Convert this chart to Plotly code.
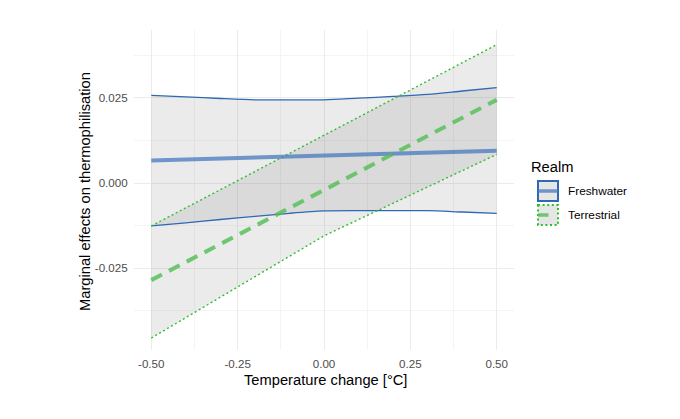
import plotly.graph_objects as go

# temperature change grid
temp = [-0.5, -0.4, -0.3, -0.2, -0.1, 0.0, 0.1, 0.2, 0.3, 0.4, 0.5]

# Freshwater marginal effect + CI
fw_mean = [0.0066, 0.0069, 0.0072, 0.0075, 0.0077, 0.0080, 0.0083, 0.0086, 0.0089, 0.0092, 0.0095]
fw_upper = [0.0257, 0.0253, 0.0248, 0.0244, 0.0244, 0.0244, 0.0249, 0.0254, 0.0260, 0.0270, 0.0280]
fw_lower = [-0.0126, -0.0117, -0.0107, -0.0098, -0.0089, -0.0082, -0.0081, -0.0081, -0.0081, -0.0085, -0.0089]

# Terrestrial marginal effect + CI
tr_temp = [-0.5, 0.0, 0.5]
tr_mean = [-0.0285, -0.0021, 0.0244]
tr_upper = [-0.0126, 0.0140, 0.0406]
tr_lower = [-0.0455, -0.0155, 0.0084]

x_ticks = [-0.5, -0.25, 0.0, 0.25, 0.5]
x_labels = ["-0.50", "-0.25", "0.00", "0.25", "0.50"]
y_ticks = [-0.025, 0.0, 0.025]
y_labels = ["-0.025", "0.000", "0.025"]

realms = ["Freshwater", "Terrestrial"]

FONT = "Liberation Sans, Arial, sans-serif"
RIBBON = "rgba(128,128,128,0.16)"
BLUE = "#2f69b3"
BLUE_MEAN = "rgba(70,120,190,0.75)"
GREEN = "#2fbf2f"
GREEN_MEAN = "rgba(80,190,80,0.8)"
DOT = "2px,2.6px"

fig = go.Figure()

# ribbons
fig.add_trace(go.Scatter(x=temp, y=fw_upper, mode="lines", line=dict(width=0, shape="spline"),
                         hoverinfo="skip", showlegend=False))
fig.add_trace(go.Scatter(x=temp, y=fw_lower, mode="lines", line=dict(width=0, shape="spline"),
                         fill="tonexty", fillcolor=RIBBON, hoverinfo="skip", showlegend=False))
fig.add_trace(go.Scatter(x=tr_temp, y=tr_upper, mode="lines", line=dict(width=0),
                         hoverinfo="skip", showlegend=False))
fig.add_trace(go.Scatter(x=tr_temp, y=tr_lower, mode="lines", line=dict(width=0),
                         fill="tonexty", fillcolor=RIBBON, hoverinfo="skip", showlegend=False))

# CI borders
for y in (fw_upper, fw_lower):
    fig.add_trace(go.Scatter(x=temp, y=y, mode="lines", showlegend=False,
                             line=dict(color=BLUE, width=1.3, shape="spline", smoothing=0.8)))
for y in (tr_upper, tr_lower):
    fig.add_trace(go.Scatter(x=tr_temp, y=y, mode="lines", showlegend=False,
                             line=dict(color=GREEN, width=1.4, dash=DOT)))

# mean lines
fig.add_trace(go.Scatter(x=temp, y=fw_mean, mode="lines", name=realms[0], showlegend=False,
                         line=dict(color=BLUE_MEAN, width=4)))
fig.add_trace(go.Scatter(x=tr_temp, y=tr_mean, mode="lines", name=realms[1], showlegend=False,
                         line=dict(color=GREEN_MEAN, width=4, dash="12px,8px")))

# hand-made legend (ggplot style keys); page has an 8px body margin
def px(x):
    return (x - 134) / 380

def py(y):
    return (350 - y) / 320

shapes = []
annotations = [dict(x=px(529), y=py(167), xref="paper", yref="paper", text="Realm",
                    showarrow=False, xanchor="left", yanchor="middle",
                    font=dict(family=FONT, size=14.7, color="#000")),
               dict(x=px(85), y=py(192), xref="paper", yref="paper",
                    text="Marginal effects on thermophilisation", textangle=-90,
                    showarrow=False, xanchor="center", yanchor="middle",
                    font=dict(family=FONT, size=14.7, color="#000")),
               dict(x=px(325), y=py(380), xref="paper", yref="paper",
                    text="Temperature change [°C]",
                    showarrow=False, xanchor="center", yanchor="middle",
                    font=dict(family=FONT, size=14.7, color="#000"))]
keys = [(realms[0], 191, BLUE, "solid", BLUE_MEAN, "solid"),
        (realms[1], 215, GREEN, DOT, GREEN_MEAN, "dash")]
for label, cy, border, bdash, mcol, mdash in keys:
    shapes.append(dict(type="rect", xref="paper", yref="paper",
                       x0=px(538), x1=px(558), y0=py(cy - 10), y1=py(cy + 10),
                       fillcolor="#e6e6e6", line=dict(color=border, width=2, dash=bdash)))
    shapes.append(dict(type="line", xref="paper", yref="paper",
                       x0=px(538), x1=px(558), y0=py(cy), y1=py(cy),
                       line=dict(color=mcol, width=3.5, dash=mdash)))
    annotations.append(dict(x=px(566), y=py(cy), xref="paper", yref="paper", text=label,
                            showarrow=False, xanchor="left", yanchor="middle",
                            font=dict(family=FONT, size=11.8, color="#000")))

fig.update_layout(
    width=680, height=419,
    margin=dict(l=126, r=174, t=22, b=77, autoexpand=False),
    paper_bgcolor="white", plot_bgcolor="white",
    font=dict(family=FONT, size=11, color="#4d4d4d"),
    shapes=shapes, annotations=annotations,
    showlegend=False,
)
fig.update_xaxes(
    range=[-0.55, 0.55], tickvals=x_ticks, ticktext=x_labels, automargin=False,
    showgrid=True, gridcolor="#ebebeb", gridwidth=1, zeroline=False, showline=False,
    ticks="outside", ticklen=3, tickcolor="rgba(0,0,0,0)",
    minor=dict(tickvals=[-0.375, -0.125, 0.125, 0.375], showgrid=True, gridcolor="#f4f4f4", gridwidth=0.6),
    tickfont=dict(family=FONT, size=11.6, color="#4d4d4d"),
)
fig.update_yaxes(
    range=[-0.049, 0.0449], tickvals=y_ticks, ticktext=y_labels, automargin=False,
    showgrid=True, gridcolor="#ebebeb", gridwidth=1, zeroline=False, showline=False,
    ticks="outside", ticklen=3, tickcolor="rgba(0,0,0,0)",
    minor=dict(tickvals=[-0.0375, -0.0125, 0.0125, 0.0375], showgrid=True, gridcolor="#f4f4f4", gridwidth=0.6),
    tickfont=dict(family=FONT, size=11.6, color="#4d4d4d"),
)

fig.write_html("out.html")
